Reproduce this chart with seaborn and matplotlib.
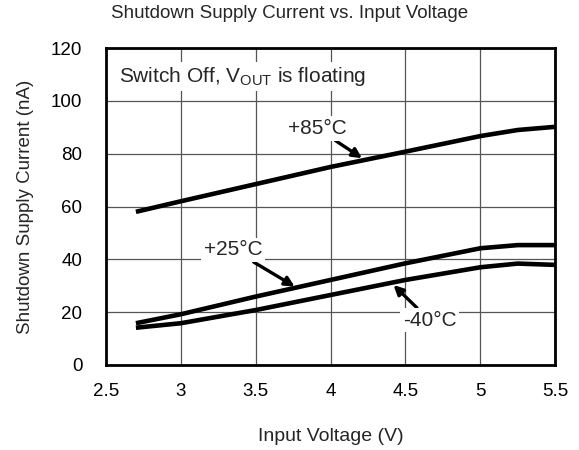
import pandas as pd
import matplotlib
matplotlib.use('Agg')
import matplotlib.pyplot as plt
import seaborn as sb

voltage = [2.7, 3.0, 3.5, 4.0, 4.5, 5.0, 5.25, 5.5]
i_85 = [58.0, 62.0, 68.5, 75.0, 80.8, 86.7, 89.0, 90.2]
i_25 = [15.8, 19.2, 25.9, 32.2, 38.5, 44.2, 45.4, 45.4]
i_m40 = [14.1, 15.8, 20.8, 26.5, 32.2, 37.0, 38.4, 37.9]
temps = ['+85°C', '+25°C', '-40°C']

df = pd.DataFrame({'V': voltage * 3,
                   'I': i_85 + i_25 + i_m40,
                   'T': sum([[t] * len(voltage) for t in temps], [])})

sb.set_style('white')
plt.rcParams['font.family'] = ['Liberation Sans', 'DejaVu Sans']

fig, ax = plt.subplots(figsize=(5.79, 4.5), dpi=100)
fig.subplots_adjust(left=0.183, right=0.959, top=0.893, bottom=0.189)

sb.lineplot(data=df, x='V', y='I', hue='T', palette=['black'] * 3,
            linewidth=3.3, legend=False, ax=ax, sort=False,
            solid_capstyle='butt')

ax.set_xlim(2.5, 5.5)
ax.set_ylim(0, 120)
ax.set_xticks([2.5, 3, 3.5, 4, 4.5, 5, 5.5])
ax.set_xticklabels(['2.5', '3', '3.5', '4', '4.5', '5', '5.5'])
ax.set_yticks(range(0, 121, 20))
ax.grid(True, color='#555555', linewidth=0.9)
ax.set_axisbelow(True)
for s in ax.spines.values():
    s.set_color('black')
    s.set_linewidth(2)
ax.tick_params(length=0, labelsize=13.5, colors='black')
ax.tick_params(axis='x', pad=13)
ax.tick_params(axis='y', pad=17)

ax.set_xlabel('Input Voltage (V)', fontsize=14, labelpad=20)
ax.set_ylabel('Shutdown Supply Current (nA)', fontsize=13.5, labelpad=12)
fig.suptitle('Shutdown Supply Current vs. Input Voltage', fontsize=13.5,
             x=0.5, y=0.99, va='top')

box = dict(facecolor='white', edgecolor='none', pad=2)
ax.text(2.59, 109.2, 'Switch Off, V$_\\mathregular{OUT}$ is floating',
        fontsize=15, va='center', ha='left', bbox=box)

arrow = dict(arrowstyle='-|>', color='black', lw=2.4, mutation_scale=14,
             shrinkA=0, shrinkB=0)
ax.annotate('+85°C', xy=(4.21, 78.3), xytext=(3.91, 89.6), fontsize=15,
            ha='center', va='center', arrowprops=arrow, bbox=box)
ax.annotate('+25°C', xy=(3.76, 29.7), xytext=(3.35, 43.6), fontsize=15,
            ha='center', va='center', arrowprops=arrow, bbox=box)
ax.annotate('-40°C', xy=(4.42, 30.3), xytext=(4.66, 17.0), fontsize=15,
            ha='center', va='center', arrowprops=arrow, bbox=box)

fig.savefig('out.png', dpi=100)
